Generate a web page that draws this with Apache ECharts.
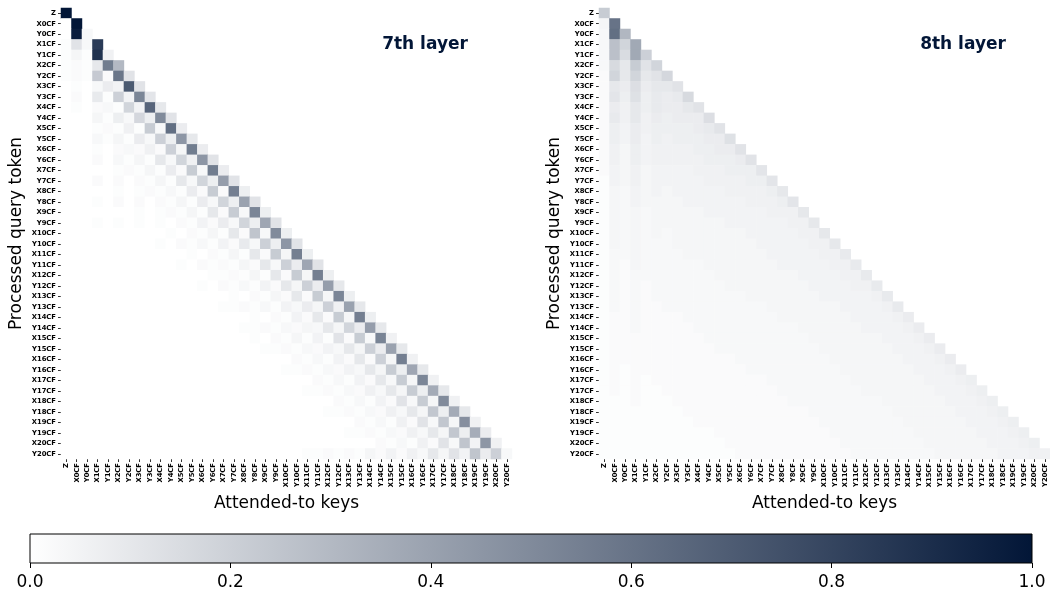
<!DOCTYPE html>
<html>
<head>
<meta charset="utf-8">
<script src="https://cdn.jsdelivr.net/npm/echarts@6/dist/echarts.min.js"></script>
<style>
  html, body { margin: 0; padding: 0; background: #ffffff; }
  #chart { width: 1050px; height: 599px; }
</style>
</head>
<body>
<div id="chart"></div>
<script>
// Token sequence shared by both attention maps (queries on rows, keys on columns)
const tokens = ['Z', 'X0CF', 'Y0CF', 'X1CF', 'Y1CF', 'X2CF', 'Y2CF', 'X3CF', 'Y3CF', 'X4CF', 'Y4CF',
  'X5CF', 'Y5CF', 'X6CF', 'Y6CF', 'X7CF', 'Y7CF', 'X8CF', 'Y8CF', 'X9CF', 'Y9CF', 'X10CF', 'Y10CF',
  'X11CF', 'Y11CF', 'X12CF', 'Y12CF', 'X13CF', 'Y13CF', 'X14CF', 'Y14CF', 'X15CF', 'Y15CF',
  'X16CF', 'Y16CF', 'X17CF', 'Y17CF', 'X18CF', 'Y18CF', 'X19CF', 'Y19CF', 'X20CF', 'Y20CF'];

// Attention weights in percent; row i holds the weights of query i over keys 0..i (causal)
const attnLayer7 = [
  [100],
  [0, 100],
  [0, 97, 3],
  [1, 12, 3, 84],
  [1, 4, 1, 88, 6],
  [1, 2, 1, 10, 56, 30],
  [1, 2, 1, 23, 2, 59, 12],
  [0, 1, 0, 3, 8, 5, 71, 12],
  [0, 2, 0, 9, 1, 20, 5, 52, 11],
  [0, 1, 0, 2, 3, 1, 18, 5, 66, 10],
  [0, 0, 0, 4, 1, 7, 3, 17, 7, 50, 12],
  [0, 0, 0, 1, 2, 1, 6, 1, 22, 3, 62, 8],
  [0, 0, 0, 3, 1, 4, 1, 8, 3, 20, 7, 45, 10],
  [0, 0, 0, 1, 0, 2, 3, 2, 6, 2, 20, 4, 56, 8],
  [0, 0, 0, 2, 0, 3, 1, 4, 1, 10, 3, 18, 6, 45, 12],
  [0, 0, 0, 0, 0, 1, 2, 1, 4, 1, 8, 2, 22, 3, 56, 8],
  [0, 0, 0, 2, 0, 2, 0, 2, 1, 4, 1, 10, 3, 18, 7, 42, 12],
  [0, 0, 0, 0, 0, 1, 0, 1, 2, 1, 3, 1, 8, 2, 22, 2, 55, 7],
  [0, 0, 0, 1, 0, 2, 0, 2, 0, 2, 1, 4, 1, 8, 3, 18, 7, 40, 12],
  [0, 0, 0, 0, 0, 0, 0, 1, 0, 1, 2, 1, 4, 1, 10, 2, 22, 3, 52, 7],
  [0, 0, 0, 1, 0, 1, 0, 1, 0, 1, 0, 2, 1, 5, 2, 8, 3, 18, 7, 38, 12],
  [0, 0, 0, 0, 0, 0, 0, 0, 0, 0, 1, 0, 2, 1, 4, 1, 10, 2, 25, 3, 50, 7],
  [0, 0, 0, 0, 0, 0, 0, 0, 0, 1, 0, 2, 1, 3, 1, 5, 2, 9, 3, 20, 7, 45, 12],
  [0, 0, 0, 0, 0, 0, 0, 0, 0, 0, 0, 0, 1, 0, 2, 1, 4, 1, 10, 2, 22, 4, 55, 7],
  [0, 0, 0, 0, 0, 0, 0, 0, 0, 0, 0, 1, 0, 2, 1, 2, 1, 4, 2, 10, 3, 20, 8, 38, 12],
  [0, 0, 0, 0, 0, 0, 0, 0, 0, 0, 0, 0, 0, 0, 1, 1, 2, 1, 4, 1, 10, 2, 22, 4, 55, 7],
  [0, 0, 0, 0, 0, 0, 0, 0, 0, 0, 0, 0, 0, 1, 0, 2, 1, 3, 1, 5, 2, 10, 4, 20, 8, 42, 10],
  [0, 0, 0, 0, 0, 0, 0, 0, 0, 0, 0, 0, 0, 0, 0, 0, 1, 0, 2, 1, 4, 2, 10, 2, 22, 4, 52, 7],
  [0, 0, 0, 0, 0, 0, 0, 0, 0, 0, 0, 0, 0, 0, 0, 1, 1, 2, 1, 3, 1, 5, 3, 8, 4, 20, 6, 40, 10],
  [0, 0, 0, 0, 0, 0, 0, 0, 0, 0, 0, 0, 0, 0, 0, 0, 0, 0, 1, 0, 2, 1, 5, 2, 10, 2, 22, 4, 55, 7],
  [0, 0, 0, 0, 0, 0, 0, 0, 0, 0, 0, 0, 0, 0, 0, 0, 0, 1, 1, 2, 1, 3, 2, 4, 3, 10, 4, 18, 8, 42, 10],
  [0, 0, 0, 0, 0, 0, 0, 0, 0, 0, 0, 0, 0, 0, 0, 0, 0, 0, 1, 0, 2, 1, 4, 1, 5, 1, 12, 2, 22, 3, 53, 6],
  [0, 0, 0, 0, 0, 0, 0, 0, 0, 0, 0, 0, 0, 0, 0, 0, 0, 0, 0, 1, 1, 2, 1, 3, 2, 5, 3, 10, 4, 20, 8, 40, 10],
  [0, 0, 0, 0, 0, 0, 0, 0, 0, 0, 0, 0, 0, 0, 0, 0, 0, 0, 0, 0, 0, 0, 2, 1, 3, 1, 5, 2, 10, 2, 20, 4, 55, 6],
  [0, 0, 0, 0, 0, 0, 0, 0, 0, 0, 0, 0, 0, 0, 0, 0, 0, 0, 0, 0, 0, 1, 1, 2, 1, 3, 2, 5, 3, 10, 4, 22, 7, 38, 10],
  [0, 0, 0, 0, 0, 0, 0, 0, 0, 0, 0, 0, 0, 0, 0, 0, 0, 0, 0, 0, 0, 0, 0, 0, 2, 1, 3, 1, 5, 2, 10, 3, 22, 4, 52, 6],
  [0, 0, 0, 0, 0, 0, 0, 0, 0, 0, 0, 0, 0, 0, 0, 0, 0, 0, 0, 0, 0, 0, 0, 1, 1, 2, 1, 3, 2, 6, 3, 10, 4, 22, 7, 36, 10],
  [0, 0, 0, 0, 0, 0, 0, 0, 0, 0, 0, 0, 0, 0, 0, 0, 0, 0, 0, 0, 0, 0, 0, 0, 0, 0, 2, 1, 3, 1, 5, 2, 12, 3, 22, 4, 50, 6],
  [0, 0, 0, 0, 0, 0, 0, 0, 0, 0, 0, 0, 0, 0, 0, 0, 0, 0, 0, 0, 0, 0, 0, 0, 0, 1, 1, 2, 1, 3, 2, 6, 3, 10, 4, 24, 7, 36, 10],
  [0, 0, 0, 0, 0, 0, 0, 0, 0, 0, 0, 0, 0, 0, 0, 0, 0, 0, 0, 0, 0, 0, 0, 0, 0, 0, 0, 0, 2, 1, 3, 1, 6, 2, 12, 3, 24, 4, 48, 6],
  [0, 0, 0, 0, 0, 0, 0, 0, 0, 0, 0, 0, 0, 0, 0, 0, 0, 0, 0, 0, 0, 0, 0, 0, 0, 0, 0, 1, 1, 2, 1, 3, 2, 6, 3, 10, 4, 24, 7, 35, 8],
  [0, 0, 0, 0, 0, 0, 0, 0, 0, 0, 0, 0, 0, 0, 0, 0, 0, 0, 0, 0, 0, 0, 0, 0, 0, 0, 0, 0, 0, 0, 2, 1, 3, 1, 6, 2, 12, 3, 25, 5, 45, 6],
  [0, 0, 0, 0, 0, 0, 0, 0, 0, 0, 0, 0, 0, 0, 0, 0, 0, 0, 0, 0, 0, 0, 0, 1, 1, 2, 1, 2, 1, 4, 2, 5, 2, 6, 3, 10, 4, 12, 5, 25, 8, 20, 3]
];

const attnLayer8 = [
  [22],
  [4, 60],
  [3, 62, 31],
  [3, 27, 18, 37],
  [3, 27, 15, 37, 20],
  [3, 16, 10, 22, 12, 18],
  [2, 18, 10, 18, 10, 12, 17],
  [2, 10, 8, 14, 8, 10, 10, 12],
  [2, 11, 7, 13, 7, 9, 8, 9, 16],
  [2, 8, 6, 10, 7, 9, 8, 8, 10, 12],
  [2, 9, 6, 10, 6, 8, 7, 8, 8, 8, 14],
  [2, 7, 5, 8, 6, 7, 7, 7, 7, 8, 9, 12],
  [2, 7, 5, 8, 5, 7, 6, 7, 7, 7, 8, 8, 13],
  [2, 6, 4, 7, 5, 6, 6, 6, 6, 7, 7, 8, 8, 12],
  [2, 6, 4, 7, 5, 6, 6, 6, 6, 6, 7, 7, 7, 8, 12],
  [2, 5, 4, 6, 4, 5, 5, 5, 5, 6, 6, 6, 7, 7, 7, 11],
  [1, 5, 4, 6, 4, 5, 5, 5, 5, 5, 6, 6, 6, 6, 7, 7, 11],
  [1, 4, 3, 5, 4, 5, 4, 5, 5, 5, 5, 5, 6, 6, 6, 6, 7, 10],
  [1, 4, 3, 5, 4, 4, 4, 4, 5, 5, 5, 5, 5, 5, 6, 6, 6, 7, 11],
  [1, 4, 3, 4, 3, 4, 4, 4, 4, 4, 5, 5, 5, 5, 5, 5, 6, 6, 6, 10],
  [1, 4, 3, 4, 3, 4, 4, 4, 4, 4, 4, 4, 5, 5, 5, 5, 5, 5, 6, 6, 10],
  [1, 4, 3, 4, 3, 4, 3, 4, 4, 4, 4, 4, 4, 4, 5, 5, 5, 5, 5, 6, 6, 10],
  [1, 4, 3, 4, 3, 3, 3, 4, 4, 4, 4, 4, 4, 4, 4, 5, 5, 5, 5, 5, 6, 6, 10],
  [1, 3, 3, 4, 3, 3, 3, 3, 4, 4, 4, 4, 4, 4, 4, 4, 5, 5, 5, 5, 5, 6, 6, 9],
  [1, 3, 2, 4, 3, 3, 3, 3, 3, 3, 4, 4, 4, 4, 4, 4, 4, 5, 5, 5, 5, 5, 6, 6, 9],
  [1, 3, 2, 3, 3, 3, 3, 3, 3, 3, 3, 4, 4, 4, 4, 4, 4, 4, 4, 5, 5, 5, 5, 6, 6, 9],
  [1, 3, 2, 3, 2, 3, 3, 3, 3, 3, 3, 3, 4, 4, 4, 4, 4, 4, 4, 4, 5, 5, 5, 5, 6, 6, 9],
  [1, 3, 2, 3, 2, 3, 3, 3, 3, 3, 3, 3, 3, 3, 4, 4, 4, 4, 4, 4, 4, 5, 5, 5, 5, 5, 6, 9],
  [1, 3, 2, 3, 2, 2, 3, 3, 3, 3, 3, 3, 3, 3, 3, 3, 4, 4, 4, 4, 4, 4, 4, 5, 5, 5, 5, 6, 9],
  [1, 2, 2, 3, 2, 2, 2, 2, 3, 3, 3, 3, 3, 3, 3, 3, 3, 4, 4, 4, 4, 4, 4, 4, 5, 5, 5, 5, 6, 8],
  [1, 2, 2, 3, 2, 2, 2, 2, 2, 3, 3, 3, 3, 3, 3, 3, 3, 3, 3, 4, 4, 4, 4, 4, 4, 5, 5, 5, 5, 6, 8],
  [1, 2, 2, 2, 2, 2, 2, 2, 2, 2, 3, 3, 3, 3, 3, 3, 3, 3, 3, 3, 4, 4, 4, 4, 4, 4, 4, 5, 5, 5, 6, 8],
  [1, 2, 2, 2, 2, 2, 2, 2, 2, 2, 2, 3, 3, 3, 3, 3, 3, 3, 3, 3, 3, 4, 4, 4, 4, 4, 4, 4, 5, 5, 5, 6, 8],
  [1, 2, 2, 2, 2, 2, 2, 2, 2, 2, 2, 2, 2, 3, 3, 3, 3, 3, 3, 3, 3, 3, 4, 4, 4, 4, 4, 4, 4, 5, 5, 5, 6, 8],
  [1, 2, 1, 2, 2, 2, 2, 2, 2, 2, 2, 2, 2, 2, 3, 3, 3, 3, 3, 3, 3, 3, 3, 4, 4, 4, 4, 4, 4, 4, 5, 5, 5, 6, 8],
  [1, 2, 1, 2, 1, 2, 2, 2, 2, 2, 2, 2, 2, 2, 2, 2, 3, 3, 3, 3, 3, 3, 3, 3, 4, 4, 4, 4, 4, 4, 4, 5, 5, 5, 6, 7],
  [1, 2, 1, 2, 1, 1, 2, 2, 2, 2, 2, 2, 2, 2, 2, 2, 2, 3, 3, 3, 3, 3, 3, 3, 3, 4, 4, 4, 4, 4, 4, 4, 5, 5, 5, 6, 7],
  [1, 1, 1, 2, 1, 1, 1, 2, 2, 2, 2, 2, 2, 2, 2, 2, 2, 2, 3, 3, 3, 3, 3, 3, 3, 3, 3, 4, 4, 4, 4, 4, 4, 5, 5, 5, 6, 7],
  [1, 1, 1, 1, 1, 1, 1, 1, 2, 2, 2, 2, 2, 2, 2, 2, 2, 2, 2, 2, 3, 3, 3, 3, 3, 3, 3, 3, 4, 4, 4, 4, 4, 4, 5, 5, 5, 6, 7],
  [1, 1, 1, 1, 1, 1, 1, 1, 1, 2, 2, 2, 2, 2, 2, 2, 2, 2, 2, 2, 2, 3, 3, 3, 3, 3, 3, 3, 3, 4, 4, 4, 4, 4, 4, 5, 5, 5, 6, 7],
  [1, 1, 1, 1, 1, 1, 1, 1, 1, 1, 1, 2, 2, 2, 2, 2, 2, 2, 2, 2, 2, 2, 3, 3, 3, 3, 3, 3, 3, 3, 4, 4, 4, 4, 4, 4, 5, 5, 5, 6, 7],
  [1, 1, 1, 1, 1, 1, 1, 1, 1, 1, 1, 1, 2, 2, 2, 2, 2, 2, 2, 2, 2, 2, 2, 3, 3, 3, 3, 3, 3, 3, 3, 4, 4, 4, 4, 4, 4, 5, 5, 5, 6, 7],
  [1, 1, 1, 1, 1, 1, 1, 1, 1, 1, 1, 1, 1, 2, 2, 2, 2, 2, 2, 2, 2, 2, 2, 2, 3, 3, 3, 3, 3, 3, 3, 3, 4, 4, 4, 4, 4, 4, 5, 5, 5, 6, 6]
];

const panelTitles = ['7th layer', '8th layer'];
const colorbarTicks = [0, 0.2, 0.4, 0.6, 0.8, 1.0];

const NAVY = '#021637';
const colorStops = ['#ffffff', NAVY];

function toCells(rows) {
  const cells = [];
  rows.forEach((row, r) => row.forEach((v, c) => cells.push([c, r, v / 100])));
  return cells;
}

const chart = echarts.init(document.getElementById('chart'), null, { renderer: 'canvas' });

const panels = [
  { left: 61, title: panelTitles[0], titleX: 425, data: toCells(attnLayer7) },
  { left: 599, title: panelTitles[1], titleX: 963, data: toCells(attnLayer8) }
];

const tickLabelStyle = {
  fontFamily: 'DejaVu Sans',
  fontWeight: 'bold',
  fontSize: 6.8,
  color: '#000'
};
const nameStyle = { fontFamily: 'DejaVu Sans', fontSize: 17, color: '#000' };

const grids = panels.map(p => ({ left: p.left, top: 8, width: 451, height: 451 }));
grids.push({
  left: 30, top: 534, width: 1002, height: 29,
  show: true, borderColor: '#000', borderWidth: 1,
  backgroundColor: {
    type: 'linear', x: 0, y: 0, x2: 1, y2: 0,
    colorStops: [{ offset: 0, color: colorStops[0] }, { offset: 1, color: colorStops[1] }]
  }
});

const xAxes = panels.map((p, i) => ({
  type: 'category', gridIndex: i, data: tokens, position: 'bottom',
  axisLine: { show: false },
  axisTick: { show: true, length: 3, alignWithLabel: true, lineStyle: { color: '#000', width: 0.8 } },
  axisLabel: Object.assign({ rotate: 90, interval: 0, margin: 4 }, tickLabelStyle),
  splitLine: { show: false },
  name: 'Attended-to keys', nameLocation: 'middle', nameGap: 36, nameTextStyle: nameStyle
}));
xAxes.push({
  type: 'value', gridIndex: 2, min: 0, max: 1, interval: 0.2, position: 'bottom',
  axisLine: { show: false },
  axisTick: { show: true, length: 5, lineStyle: { color: '#000', width: 1 } },
  axisLabel: { margin: 11, fontFamily: 'DejaVu Sans', fontSize: 17, color: '#000',
    formatter: v => colorbarTicks.includes(+v.toFixed(1)) ? v.toFixed(1) : '' },
  splitLine: { show: false }
});

const yAxes = panels.map((p, i) => ({
  type: 'category', gridIndex: i, data: tokens, inverse: true,
  axisLine: { show: false },
  axisTick: { show: true, length: 3, alignWithLabel: true, lineStyle: { color: '#000', width: 0.8 } },
  axisLabel: Object.assign({ interval: 0, margin: 5 }, tickLabelStyle),
  splitLine: { show: false },
  name: 'Processed query token', nameLocation: 'middle', nameRotate: 90, nameGap: 36,
  nameTextStyle: nameStyle
}));
yAxes.push({ type: 'value', gridIndex: 2, min: 0, max: 1, show: false });

const series = panels.map((p, i) => ({
  type: 'heatmap', xAxisIndex: i, yAxisIndex: i, data: p.data,
  itemStyle: { borderWidth: 0 },
  emphasis: { disabled: true },
  progressive: 0
}));

chart.setOption({
  backgroundColor: '#ffffff',
  animation: false,
  grid: grids,
  xAxis: xAxes,
  yAxis: yAxes,
  visualMap: {
    show: false, type: 'continuous', min: 0, max: 1, seriesIndex: [0, 1],
    inRange: { color: colorStops }
  },
  graphic: panels.map(p => ({
    type: 'text', x: p.titleX, y: 45,
    style: {
      text: p.title, textAlign: 'center', textVerticalAlign: 'middle',
      font: 'bold 17px "DejaVu Sans"', fill: NAVY
    }
  })),
  series: series
});
</script>
</body>
</html>
